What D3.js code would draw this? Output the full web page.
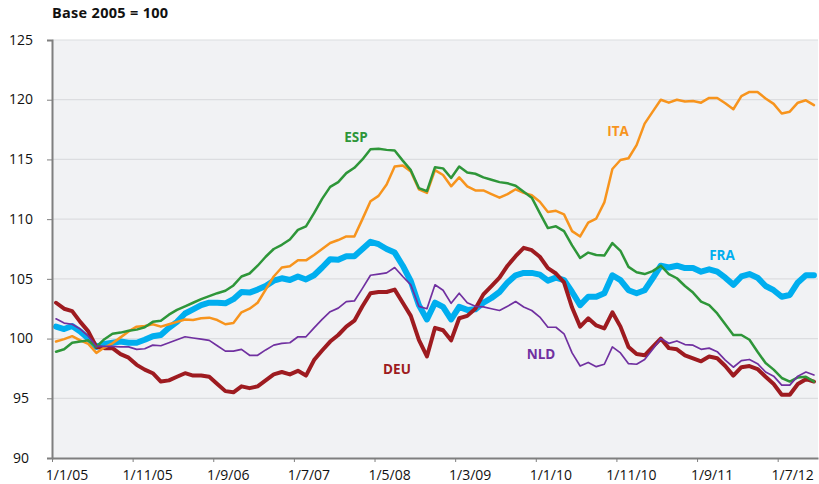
<!DOCTYPE html>
<html>
<head>
<meta charset="utf-8">
<script src="https://cdn.jsdelivr.net/npm/d3@7"></script>
<style>
body{margin:0;background:#fff;}
text{font-family:"Open Sans","Noto Sans",sans-serif;}
</style>
</head>
<body>
<svg id="chart" width="819" height="484"></svg>
<script>
// monthly index, base 2005 = 100 (Jan 2005 .. Nov 2012)
var months = d3.timeMonth.range(new Date(2005, 0, 1), new Date(2012, 11, 1));
var tickLabels = ['1/1/05','1/11/05','1/9/06','1/7/07','1/5/08','1/3/09','1/1/10','1/11/10','1/9/11','1/7/12'];
var yTicks = [90, 95, 100, 105, 110, 115, 120, 125];

var deu = [103.0,102.5,102.3,101.4,100.6,99.3,99.2,99.2,98.7,98.4,
           97.8,97.4,97.1,96.4,96.5,96.8,97.1,96.9,96.9,96.8,
           96.2,95.6,95.5,96.0,95.85,96.0,96.5,97.0,97.2,97.0,
           97.3,96.9,98.2,99.0,99.75,100.3,101.0,101.5,102.7,103.8,
           103.9,103.9,104.1,103.0,101.9,99.9,98.5,100.9,100.7,99.85,
           101.7,101.9,102.5,103.7,104.4,105.1,106.1,106.9,107.6,107.4,
           106.85,105.9,105.45,104.7,102.6,101.0,101.7,101.1,100.85,102.2,
           101.0,99.3,98.7,98.6,99.3,100.0,99.2,99.1,98.6,98.35,
           98.1,98.5,98.35,97.7,96.9,97.6,97.7,97.45,96.8,96.2,
           95.3,95.3,96.2,96.6,96.4];
var fra = [101.0,100.8,101.05,100.6,100.0,99.3,99.55,99.65,99.75,99.65,
           99.65,99.9,100.2,100.3,100.9,101.4,102.1,102.45,102.8,103.0,
           103.0,102.95,103.3,103.9,103.85,104.1,104.4,104.85,105.05,104.9,
           105.2,104.95,105.3,105.95,106.65,106.6,106.9,106.9,107.5,108.1,
           107.9,107.5,107.2,106.1,104.8,102.8,101.6,103.0,102.65,101.6,
           102.65,102.4,102.45,103.0,103.4,103.9,104.7,105.3,105.5,105.5,
           105.35,104.85,105.1,104.9,103.9,102.8,103.5,103.5,103.8,105.3,
           104.9,104.05,103.8,104.05,105.05,106.1,105.95,106.1,105.9,105.9,
           105.6,105.8,105.6,105.1,104.5,105.2,105.4,105.1,104.4,104.05,
           103.5,103.65,104.7,105.3,105.3];
var esp = [98.9,99.1,99.65,99.75,99.85,99.3,99.95,100.4,100.5,100.65,
           100.75,100.95,101.4,101.5,102.0,102.4,102.7,103.0,103.3,103.55,
           103.8,104.0,104.45,105.2,105.45,106.1,106.85,107.5,107.85,108.3,
           109.1,109.4,110.5,111.7,112.7,113.1,113.85,114.3,115.0,115.85,
           115.9,115.8,115.75,114.9,114.1,112.6,112.35,114.35,114.25,113.45,
           114.4,113.9,113.8,113.5,113.3,113.1,113.0,112.8,112.3,111.8,
           110.5,109.25,109.4,109.0,107.8,106.75,107.2,107.0,106.95,108.0,
           107.35,106.0,105.55,105.4,105.65,106.1,105.4,105.05,104.4,103.85,
           103.1,102.8,102.1,101.2,100.3,100.3,99.9,98.9,97.95,97.4,
           96.7,96.4,96.75,96.8,96.4];
var ita = [99.75,99.95,100.2,99.85,99.55,98.8,99.25,99.6,100.1,100.6,
           101.0,101.05,101.2,101.0,101.2,101.4,101.6,101.55,101.7,101.75,
           101.55,101.2,101.3,102.2,102.5,103.0,104.1,105.2,105.95,106.05,
           106.55,106.55,107.0,107.5,108.0,108.25,108.55,108.55,110.0,111.5,
           111.95,112.9,114.4,114.5,114.0,112.5,112.2,114.1,113.7,112.75,
           113.5,112.75,112.4,112.4,112.1,111.8,112.1,112.5,112.2,112.0,
           111.45,110.6,110.7,110.4,109.0,108.55,109.7,110.05,111.4,114.2,
           114.95,115.1,116.2,118.0,119.0,120.0,119.75,120.0,119.85,119.9,
           119.75,120.15,120.15,119.7,119.2,120.3,120.65,120.65,120.1,119.65,
           118.85,119.0,119.75,119.95,119.55];
var nld = [101.65,101.3,101.2,100.8,100.2,99.35,99.35,99.35,99.3,99.3,
           99.1,99.15,99.45,99.4,99.65,99.9,100.15,100.05,99.95,99.85,
           99.4,98.95,98.95,99.1,98.6,98.6,99.05,99.45,99.6,99.65,
           100.15,100.15,100.9,101.6,102.25,102.55,103.1,103.15,104.2,105.3,
           105.4,105.5,105.95,105.2,104.5,102.7,102.5,104.5,104.05,102.95,
           103.8,103.0,102.7,102.65,102.5,102.35,102.7,103.1,102.65,102.35,
           101.8,100.95,100.95,100.4,98.8,97.7,98.0,97.65,97.85,99.3,
           98.8,97.9,97.85,98.25,99.1,100.0,99.6,99.8,99.5,99.45,
           99.1,99.2,98.9,98.2,97.6,98.15,98.25,97.9,97.2,96.85,
           96.1,96.1,96.85,97.2,96.95];

var series = [
    {name: 'FRA', values: fra, color: '#00aeef', width: 6,   lx: 722, ly: 255},
    {name: 'DEU', values: deu, color: '#9e1b20', width: 4,   lx: 397, ly: 369},
    {name: 'ITA', values: ita, color: '#f7941d', width: 2.5, lx: 618, ly: 131},
    {name: 'ESP', values: esp, color: '#2e9639', width: 2.5, lx: 356, ly: 137},
    {name: 'NLD', values: nld, color: '#7030a0', width: 1.7, lx: 541, ly: 354}
];

var plotLeft = 52, plotRight = 818, plotTop = 40, plotBottom = 458;
var svg = d3.select('#chart');

var xScale = d3.scaleLinear()
    .domain([-0.5, months.length - 0.5])
    .range([plotLeft, plotRight]);
var yScale = d3.scaleLinear()
    .domain([90, 125])
    .range([plotBottom, plotTop]);

// plot background
svg.append('rect')
    .attr('x', plotLeft).attr('y', plotTop)
    .attr('width', plotRight - plotLeft).attr('height', plotBottom - plotTop)
    .attr('fill', '#f1f2f4');

// gridlines
svg.append('g')
    .selectAll('line')
    .data(yTicks.slice(1))
    .enter()
    .append('line')
    .attr('x1', plotLeft).attr('x2', plotRight)
    .attr('y1', function(d){ return yScale(d); })
    .attr('y2', function(d){ return yScale(d); })
    .attr('stroke', '#dcdde0')
    .attr('stroke-width', 1.2);

// title
svg.append('text')
    .attr('x', 52).attr('y', 18)
    .attr('font-size', 14.5).attr('font-weight', 'bold')
    .attr('letter-spacing', 0.3)
    .attr('fill', '#111')
    .text('Base 2005 = 100');

// lines
var line = d3.line()
    .x(function(d, i){ return xScale(i); })
    .y(function(d){ return yScale(d); });

svg.append('g')
    .selectAll('path')
    .data(series)
    .enter()
    .append('path')
    .attr('d', function(s){ return line(s.values); })
    .attr('fill', 'none')
    .attr('stroke', function(s){ return s.color; })
    .attr('stroke-width', function(s){ return s.width; })
    .attr('stroke-linejoin', 'round')
    .attr('stroke-linecap', 'round');

// series labels
svg.append('g')
    .selectAll('text')
    .data(series)
    .enter()
    .append('text')
    .attr('x', function(s){ return s.lx; })
    .attr('y', function(s){ return s.ly; })
    .attr('dy', '0.35em')
    .attr('text-anchor', 'middle')
    .attr('font-size', 13.5)
    .attr('font-weight', 'bold')
    .attr('fill', function(s){ return s.color; })
    .text(function(s){ return s.name; });

// y axis
var yAxis = d3.axisLeft(yScale).tickValues(yTicks).tickSize(5).tickPadding(0).tickFormat(d3.format('d'));
var gy = svg.append('g')
    .attr('transform', 'translate(' + plotLeft + ',0)')
    .call(yAxis);
gy.select('.domain').attr('stroke', '#7f7f7f').attr('stroke-width', 2);
gy.selectAll('.tick line').attr('stroke', '#7f7f7f');
gy.selectAll('.tick text')
    .attr('x', -31).attr('dy', '0.3em')
    .attr('text-anchor', 'middle')
    .attr('font-size', 14)
    .attr('fill', '#111');

// x axis, ticks on month boundaries
var tickIdx = tickLabels.map(function(d, i){ return i * 10 - 0.5; });
var xAxis = d3.axisBottom(xScale)
    .tickValues(tickIdx)
    .tickSize(4)
    .tickSizeOuter(0)
    .tickFormat(function(d, i){ return tickLabels[i]; });
var gx = svg.append('g')
    .attr('transform', 'translate(0,' + plotBottom + ')')
    .call(xAxis);
gx.select('.domain').attr('stroke', '#7f7f7f').attr('stroke-width', 2);
gx.selectAll('.tick line').attr('stroke', '#7f7f7f');
gx.selectAll('.tick text')
    .attr('x', 14.5).attr('y', 12)
    .attr('font-size', 14)
    .attr('fill', '#111');
</script>
</body>
</html>
